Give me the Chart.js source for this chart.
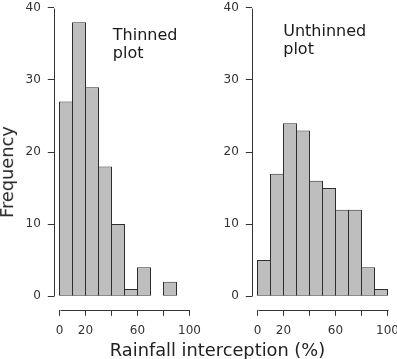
<!DOCTYPE html>
<html lang="en">
<head>
  <meta charset="UTF-8">
  <title>Rainfall interception</title>
  <script src="https://cdn.jsdelivr.net/npm/chart.js"></script>
  <style>
    body {
      margin: 0;
      width: 397px;
      height: 359px;
      overflow: hidden;
      position: relative;
      background: #fff;
      font-family: "DejaVu Sans", sans-serif;
      color: #222;
    }

    canvas {
      position: absolute;
      top: -20px;
      left: 0;
    }

    .label {
      position: absolute;
      font-size: 17.8px;
      line-height: 1;
      white-space: nowrap;
    }

    .xlab {
      left: 217.5px;
      top: 341px;
      transform: translateX(-50%);
    }

    .ylab {
      left: 6.5px;
      top: 172px;
      transform: translate(-50%, -50%) rotate(-90deg);
    }
  </style>
</head>

<body>
  <canvas id="thinnedChart" width="397" height="379"></canvas>
  <canvas id="unthinnedChart" width="410" height="379"></canvas>
  <div class="label xlab">Rainfall interception (%)</div>
  <div class="label ylab">Frequency</div>
  <script>
    // bin midpoints, 10 % wide bins
    const binMids = [5, 15, 25, 35, 45, 55, 65, 75, 85, 95];
    const thinnedCounts = [27, 38, 29, 18, 10, 1, 4, 0, 2];
    const unthinnedCounts = [5, 17, 24, 23, 16, 15, 12, 12, 4, 1];
    const yTicks = [0, 10, 20, 30, 40];
    const xTicks = [0, 20, 40, 60, 80, 100];
    const xTickLabels = ['0', '20', '', '60', '', '100'];
    const thinnedTitle = ['Thinned', 'plot'];
    const unthinnedTitle = ['Unthinned', 'plot'];

    const ink = '#333';
    const font = { family: 'DejaVu Sans', size: 12 };

    // R style axes: lines only span the tick range
    const axisLines = {
      id: 'axisLines',
      afterDraw(chart) {
        const { ctx, chartArea, scales: { x, y } } = chart;
        const opts = chart.options.plugins.axisLines;
        ctx.save();
        ctx.strokeStyle = ink;
        ctx.lineWidth = 1;
        ctx.beginPath();
        const ax = Math.round(chartArea.left) + 0.5;
        ctx.moveTo(ax, Math.round(y.getPixelForValue(yTicks[0])) + 0.5);
        ctx.lineTo(ax, Math.round(y.getPixelForValue(yTicks[yTicks.length - 1])) + 0.5);
        const ay = Math.round(chartArea.bottom) + 0.5;
        ctx.moveTo(Math.round(x.getPixelForValue(xTicks[0])) + 0.5, ay);
        ctx.lineTo(Math.round(x.getPixelForValue(xTicks[xTicks.length - 1])) + 0.5, ay);
        ctx.stroke();

        // panel title inside the plot
        ctx.fillStyle = '#1a1a1a';
        ctx.font = '16px "DejaVu Sans"';
        ctx.textAlign = 'left';
        ctx.textBaseline = 'alphabetic';
        const tx = x.getPixelForValue(opts.at[0]);
        const ty = y.getPixelForValue(opts.at[1]);
        opts.lines.forEach((line, i) => ctx.fillText(line, tx, ty + i * 18.4));
        ctx.restore();
      }
    };

    function makeHist(id, counts, title, titleAt, padding, yWidth) {
      return new Chart(document.getElementById(id), {
        type: 'bar',
        data: {
          datasets: [{
            data: counts.map((c, i) => ({ x: binMids[i], y: c })),
            backgroundColor: '#bebebe',
            borderColor: '#2e2e2e',
            borderWidth: 1,
            borderSkipped: false,
            inflateAmount: 0,
            // one extra pixel so neighbouring bars share a single outline
            barPercentage: 14 / 13,
            categoryPercentage: 1
          }]
        },
        options: {
          responsive: false,
          animation: false,
          devicePixelRatio: 1,
          layout: { padding },
          plugins: {
            legend: { display: false },
            tooltip: { enabled: false },
            axisLines: { lines: title, at: titleAt }
          },
          scales: {
            x: {
              type: 'linear',
              min: -4,
              max: 104,
              offset: false,
              afterBuildTicks: s => { s.ticks = xTicks.map(v => ({ value: v })); },
              afterFit: s => { s.height = 49.18; },
              ticks: {
                autoSkip: false,
                maxRotation: 0,
                padding: 8,
                color: ink,
                font,
                callback: (v, i) => xTickLabels[i]
              },
              grid: { offset: false, drawOnChartArea: false, tickLength: 6, color: ink },
              border: { display: false }
            },
            y: {
              min: -1.9,
              max: 41.9,
              afterBuildTicks: s => { s.ticks = yTicks.map(v => ({ value: v })); },
              afterFit: s => { s.width = yWidth; },
              ticks: { padding: 7, color: ink, font },
              grid: { drawOnChartArea: false, tickLength: 6.5, color: ink },
              border: { display: false }
            }
          }
        },
        plugins: [axisLines]
      });
    }

    makeHist('thinnedChart', thinnedCounts, thinnedTitle, [41, 35.6],
      { left: 0, top: 11.18, right: 397 - 194.7, bottom: 0 }, 54.3);
    makeHist('unthinnedChart', unthinnedCounts, unthinnedTitle, [19.8, 36.1],
      { left: 200, top: 11.18, right: 410 - 392.7, bottom: 0 }, 52.3);
  </script>
</body>

</html>
